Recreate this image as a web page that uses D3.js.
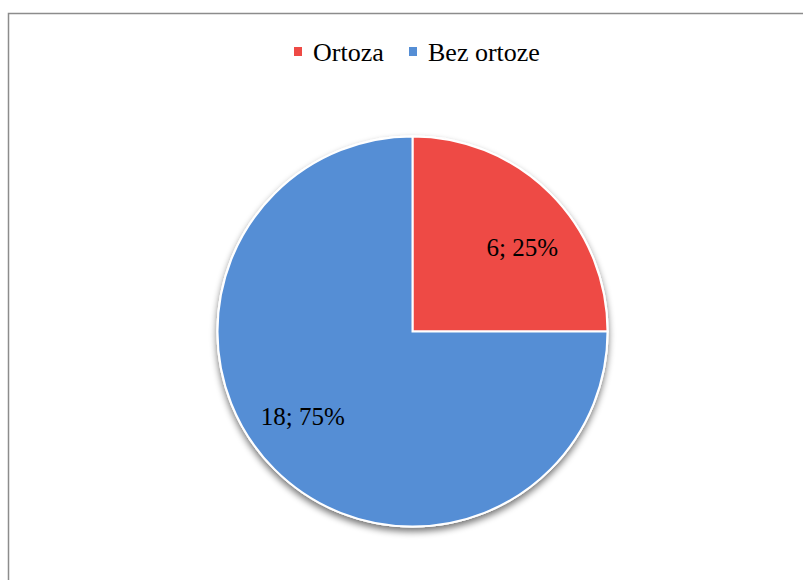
<!DOCTYPE html>
<html>
<head>
<meta charset="utf-8">
<script src="https://cdn.jsdelivr.net/npm/d3@7"></script>
<style>
  body { margin: 0; background: #fff; }
  svg { display: block; }
  text { font-family: "Liberation Serif", "Times New Roman", serif; }
</style>
</head>
<body>
<script>
// data
var categories = ["Ortoza", "Bez ortoze"];
var counts = [6, 18];
var colors = ["#EE4A45", "#558ED5"];

var width = 803, height = 580;
var cx = 412.5, cy = 331.5, radius = 195;

var svg = d3.select("body").append("svg")
    .attr("width", width)
    .attr("height", height);

// chart frame (right and bottom edges run off the picture)
svg.append("rect")
   .attr("x", 8.5).attr("y", 13.5)
   .attr("width", 820).attr("height", 600)
   .attr("fill", "#fff")
   .attr("stroke", "#8c8c8c")
   .attr("stroke-width", 1.5);

var defs = svg.append("defs");
var shadow = defs.append("filter").attr("id", "shadow")
    .attr("x", "-20%").attr("y", "-20%").attr("width", "140%").attr("height", "140%");
shadow.append("feGaussianBlur").attr("in", "SourceAlpha").attr("stdDeviation", 3.5);
shadow.append("feOffset").attr("dx", 0).attr("dy", 4).attr("result", "off");
shadow.append("feComponentTransfer").append("feFuncA").attr("type", "linear").attr("slope", 0.55);
var merge = shadow.append("feMerge");
merge.append("feMergeNode");
merge.append("feMergeNode").attr("in", "SourceGraphic");

var total = d3.sum(counts);
var pie = d3.pie().sort(null).value(function (d) { return d; });
var arcs = pie(counts);
var arc = d3.arc().innerRadius(0).outerRadius(radius);

var g = svg.append("g").attr("transform", "translate(" + cx + "," + cy + ")");

g.append("circle").attr("r", radius + 1).attr("fill", "#fff").attr("filter", "url(#shadow)");

g.selectAll("path.slice")
 .data(arcs)
 .enter().append("path")
 .attr("class", "slice")
 .attr("d", arc)
 .attr("fill", function (d, i) { return colors[i]; })
 .attr("stroke", "#fff")
 .attr("stroke-width", 2);

// labels sit a bit past the middle of each slice, like Excel's best fit
g.selectAll("text.lbl")
 .data(arcs)
 .enter().append("text")
 .attr("class", "lbl")
 .attr("transform", function (d) {
     var p = d3.pointRadial((d.startAngle + d.endAngle) / 2 + 0.13, radius * 0.71);
     return "translate(" + p[0] + "," + p[1] + ")";
 })
 .attr("text-anchor", "middle")
 .attr("dy", "0.35em")
 .attr("font-size", 25)
 .attr("fill", "#000")
 .text(function (d) {
     return d.data + "; " + Math.round(d.data / total * 100) + "%";
 });

// legend
var legendX = [294, 409];
var items = svg.append("g").selectAll("g")
    .data(categories)
    .enter().append("g")
    .attr("transform", function (d, i) { return "translate(" + legendX[i] + ",0)"; });
items.append("rect")
     .attr("x", 0).attr("y", 47)
     .attr("width", 8).attr("height", 9)
     .attr("fill", function (d, i) { return colors[i]; });
items.append("text")
     .attr("x", 19).attr("y", 61)
     .attr("font-size", 26)
     .text(function (d) { return d; });
</script>
</body>
</html>
